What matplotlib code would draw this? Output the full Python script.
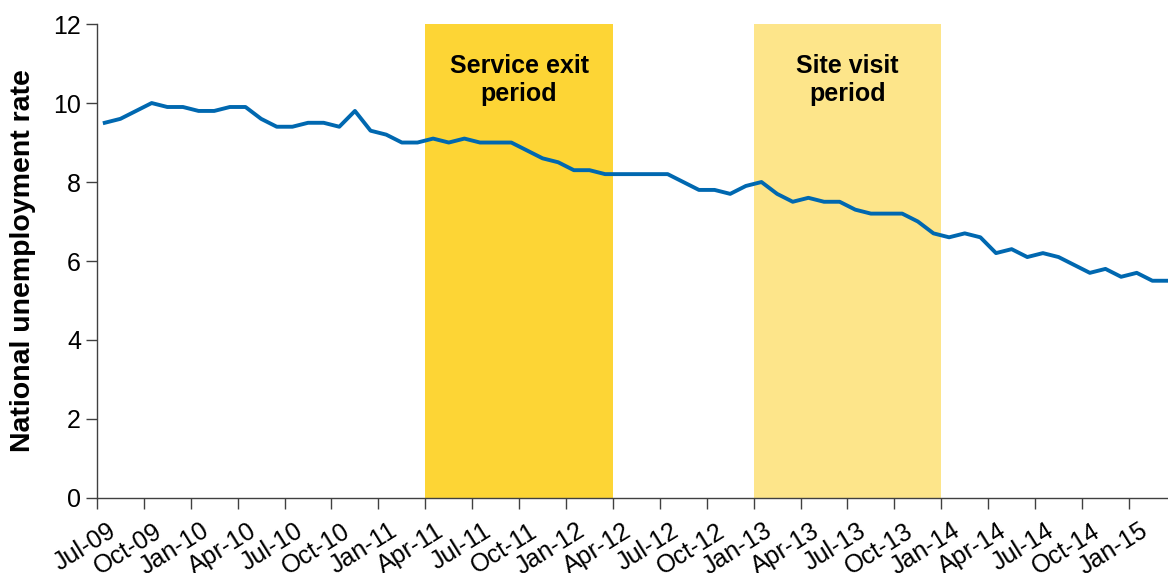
import matplotlib
matplotlib.use("Agg")
import matplotlib.pyplot as plt
from matplotlib.transforms import ScaledTranslation
import numpy as np

plt.rcParams['font.family'] = ['Liberation Sans', 'DejaVu Sans']

# monthly national unemployment rate, Jul-09 .. Mar-15
rate = [9.5, 9.6, 9.8, 10.0, 9.9, 9.9, 9.8, 9.8, 9.9, 9.9, 9.6, 9.4,
        9.4, 9.5, 9.5, 9.4, 9.8, 9.3, 9.2, 9.0, 9.0, 9.1, 9.0, 9.1,
        9.0, 9.0, 9.0, 8.8, 8.6, 8.5, 8.3, 8.3, 8.2, 8.2, 8.2, 8.2,
        8.2, 8.0, 7.8, 7.8, 7.7, 7.9, 8.0, 7.7, 7.5, 7.6, 7.5, 7.5,
        7.3, 7.2, 7.2, 7.2, 7.0, 6.7, 6.6, 6.7, 6.6, 6.2, 6.3, 6.1,
        6.2, 6.1, 5.9, 5.7, 5.8, 5.6, 5.7, 5.5, 5.5]
tick_labels = ['Jul-09', 'Oct-09', 'Jan-10', 'Apr-10', 'Jul-10', 'Oct-10',
               'Jan-11', 'Apr-11', 'Jul-11', 'Oct-11', 'Jan-12', 'Apr-12',
               'Jul-12', 'Oct-12', 'Jan-13', 'Apr-13', 'Jul-13', 'Oct-13',
               'Jan-14', 'Apr-14', 'Jul-14', 'Oct-14', 'Jan-15']
# shaded periods in months since Jul-09
service_exit = (21, 33)   # Apr-11 .. Apr-12
site_visit = (42, 54)     # Jan-13 .. Jan-14

fig = plt.figure(figsize=(11.68, 5.73), dpi=100)
ax = fig.add_axes([0.083, 0.131, 0.917, 0.827])

ax.axvspan(service_exit[0], service_exit[1], color='#FDD535', lw=0, zorder=0)
ax.axvspan(site_visit[0], site_visit[1], color='#FDE58A', lw=0, zorder=0)

x = np.arange(len(rate)) + 0.5
ax.plot(x, rate, color='#0068B0', lw=2.8, zorder=3)

ax.text(sum(service_exit) / 2, 10.58, 'Service exit\nperiod', ha='center', va='center',
        fontsize=18, fontweight='bold', linespacing=1.2)
ax.text(sum(site_visit) / 2, 10.58, 'Site visit\nperiod', ha='center', va='center',
        fontsize=18, fontweight='bold', linespacing=1.2)

ax.set_xlim(0, 68.5)
ax.set_ylim(0, 12)
ax.set_yticks(range(0, 13, 2))
ax.set_xticks(np.arange(len(tick_labels)) * 3)
ax.set_xticklabels(tick_labels, rotation=32, ha='right', rotation_mode='anchor')
ax.tick_params(axis='both', labelsize=18, length=8, width=1, color='#404040', direction='out')
ax.tick_params(axis='x', labelsize=18, pad=7)
# shift rotated labels a little right of their ticks
shift = ScaledTranslation(10 / 100, 0, fig.dpi_scale_trans)
for lab in ax.get_xticklabels():
    lab.set_transform(lab.get_transform() + shift)
ax.set_ylabel('National unemployment rate', fontsize=20.5, fontweight='bold', labelpad=12)

for s in ['top', 'right']:
    ax.spines[s].set_visible(False)
for s in ['left', 'bottom']:
    ax.spines[s].set_color('#404040')
    ax.spines[s].set_linewidth(1)

plt.savefig('out.png', dpi=100)
